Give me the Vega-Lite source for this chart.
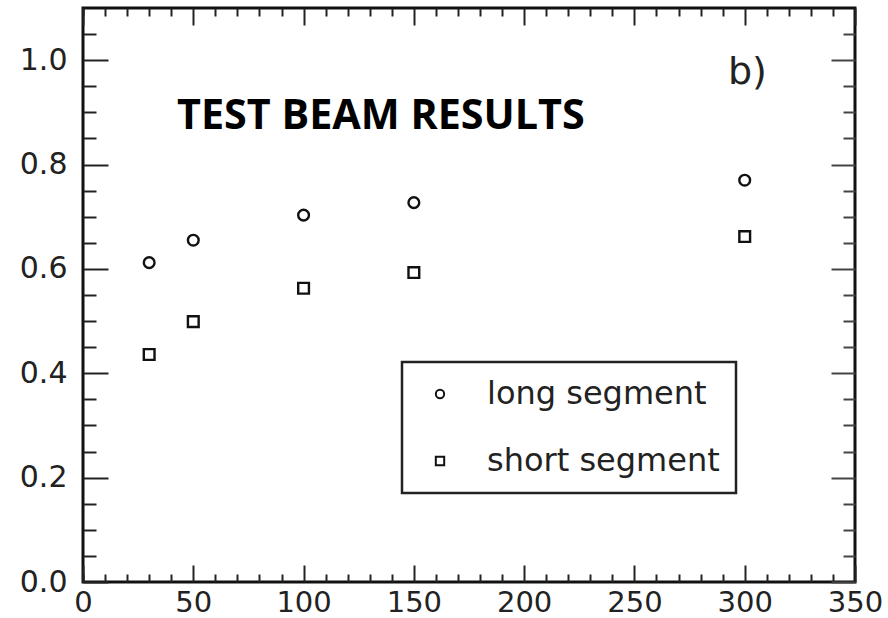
{
  "$schema": "https://vega.github.io/schema/vega-lite/v6.json",
  "width": 772,
  "height": 574,
  "autosize": "none",
  "padding": {"left": 83, "top": 8, "right": 33, "bottom": 36},
  "background": "white",
  "config": {
    "font": "DejaVu Sans",
    "view": {"stroke": "#111", "strokeWidth": 3},
    "axis": {"title": null, "grid": false, "domain": false, "tickColor": "#222", "tickWidth": 2},
    "legend": {
      "orient": "none",
      "legendX": 319,
      "legendY": 354,
      "strokeColor": "#222",
      "strokeWidth": 2.5,
      "padding": 16,
      "symbolSize": 70,
      "symbolStrokeWidth": 2,
      "symbolStrokeColor": "#111",
      "symbolFillColor": "transparent",
      "symbolOffset": 6,
      "labelFont": "DejaVu Sans",
      "labelFontSize": 32,
      "labelColor": "#222",
      "labelOffset": 31,
      "rowPadding": 35,
      "labelLimit": 400
    }
  },
  "datasets": {
    "efficiency": [
      {"energy": 30, "value": 0.612, "series": "long segment"},
      {"energy": 50, "value": 0.655, "series": "long segment"},
      {"energy": 100, "value": 0.703, "series": "long segment"},
      {"energy": 150, "value": 0.727, "series": "long segment"},
      {"energy": 300, "value": 0.770, "series": "long segment"},
      {"energy": 30, "value": 0.436, "series": "short segment"},
      {"energy": 50, "value": 0.499, "series": "short segment"},
      {"energy": 100, "value": 0.563, "series": "short segment"},
      {"energy": 150, "value": 0.593, "series": "short segment"},
      {"energy": 300, "value": 0.662, "series": "short segment"}
    ],
    "heading": [{"text": "TEST BEAM RESULTS", "x": 42.6, "y": 0.868}],
    "panel": [{"text": "b)", "x": 292.4, "y": 0.954}]
  },
  "resolve": {"axis": {"x": "independent", "y": "independent"}},
  "layer": [
    {
      "data": {"name": "efficiency"},
      "mark": {"type": "point", "filled": false, "strokeWidth": 2.4, "color": "#111", "opacity": 1, "size": 115},
      "encoding": {
        "x": {
          "field": "energy",
          "type": "quantitative",
          "scale": {"domain": [0, 350], "nice": false, "zero": false},
          "axis": {
            "orient": "bottom",
            "values": [0, 50, 100, 150, 200, 250, 300, 350],
            "tickSize": -17,
            "format": "d",
            "labelFont": "DejaVu Sans",
            "labelFontSize": 29,
            "labelColor": "#222",
            "labelPadding": 23,
            "labelOverlap": false,
            "labelFlush": false,
            "labelBound": false
          }
        },
        "y": {
          "field": "value",
          "type": "quantitative",
          "scale": {"domain": [0, 1.1], "nice": false, "zero": false},
          "axis": {
            "orient": "left",
            "values": [0, 0.2, 0.4, 0.6, 0.8, 1.0],
            "tickSize": -25,
            "format": ".1f",
            "labelFont": "DejaVu Sans",
            "labelFontSize": 30,
            "labelColor": "#222",
            "labelPadding": 41,
            "labelOverlap": false,
            "labelFlush": false,
            "labelBound": false
          }
        },
        "shape": {
          "field": "series",
          "type": "nominal",
          "scale": {"domain": ["long segment", "short segment"], "range": ["circle", "square"]},
          "legend": {"title": null}
        }
      }
    },
    {
      "data": {"name": "efficiency"},
      "mark": {"type": "point", "opacity": 0},
      "encoding": {
        "x": {
          "field": "energy",
          "type": "quantitative",
          "axis": {
            "orient": "bottom",
            "labels": false,
            "values": [0,10,20,30,40,60,70,80,90,110,120,130,140,160,170,180,190,210,220,230,240,260,270,280,290,310,320,330,340],
            "tickSize": -8
          }
        },
        "y": {
          "field": "value",
          "type": "quantitative",
          "axis": {
            "orient": "left",
            "labels": false,
            "values": [0.05,0.1,0.15,0.25,0.3,0.35,0.45,0.5,0.55,0.65,0.7,0.75,0.85,0.9,0.95,1.05],
            "tickSize": -13
          }
        }
      }
    },
    {
      "data": {"name": "efficiency"},
      "mark": {"type": "point", "opacity": 0},
      "encoding": {
        "x": {
          "field": "energy",
          "type": "quantitative",
          "axis": {
            "orient": "top",
            "labels": false,
            "values": [0, 50, 100, 150, 200, 250, 300, 350],
            "tickSize": -17
          }
        },
        "y": {
          "field": "value",
          "type": "quantitative",
          "axis": {
            "orient": "right",
            "labels": false,
            "values": [0, 0.2, 0.4, 0.6, 0.8, 1.0],
            "tickSize": -24,
            "tickColor": "#444"
          }
        }
      }
    },
    {
      "data": {"name": "efficiency"},
      "mark": {"type": "point", "opacity": 0},
      "encoding": {
        "x": {
          "field": "energy",
          "type": "quantitative",
          "axis": {
            "orient": "top",
            "labels": false,
            "values": [0,10,20,30,40,60,70,80,90,110,120,130,140,160,170,180,190,210,220,230,240,260,270,280,290,310,320,330,340],
            "tickSize": -8
          }
        },
        "y": {
          "field": "value",
          "type": "quantitative",
          "axis": {
            "orient": "right",
            "labels": false,
            "values": [0.05,0.1,0.15,0.25,0.3,0.35,0.45,0.5,0.55,0.65,0.7,0.75,0.85,0.9,0.95,1.05],
            "tickSize": -12,
            "tickColor": "#444"
          }
        }
      }
    },
    {
      "data": {"name": "heading"},
      "mark": {"type": "text", "align": "left", "baseline": "alphabetic", "font": "Open Sans", "fontWeight": "bold", "fontSize": 41.3, "color": "black"},
      "encoding": {
        "x": {"field": "x", "type": "quantitative", "axis": null},
        "y": {"field": "y", "type": "quantitative", "axis": null},
        "text": {"field": "text"}
      }
    },
    {
      "data": {"name": "panel"},
      "mark": {"type": "text", "align": "left", "baseline": "alphabetic", "font": "DejaVu Sans", "fontSize": 38, "color": "#222"},
      "encoding": {
        "x": {"field": "x", "type": "quantitative", "axis": null},
        "y": {"field": "y", "type": "quantitative", "axis": null},
        "text": {"field": "text"}
      }
    }
  ]
}
